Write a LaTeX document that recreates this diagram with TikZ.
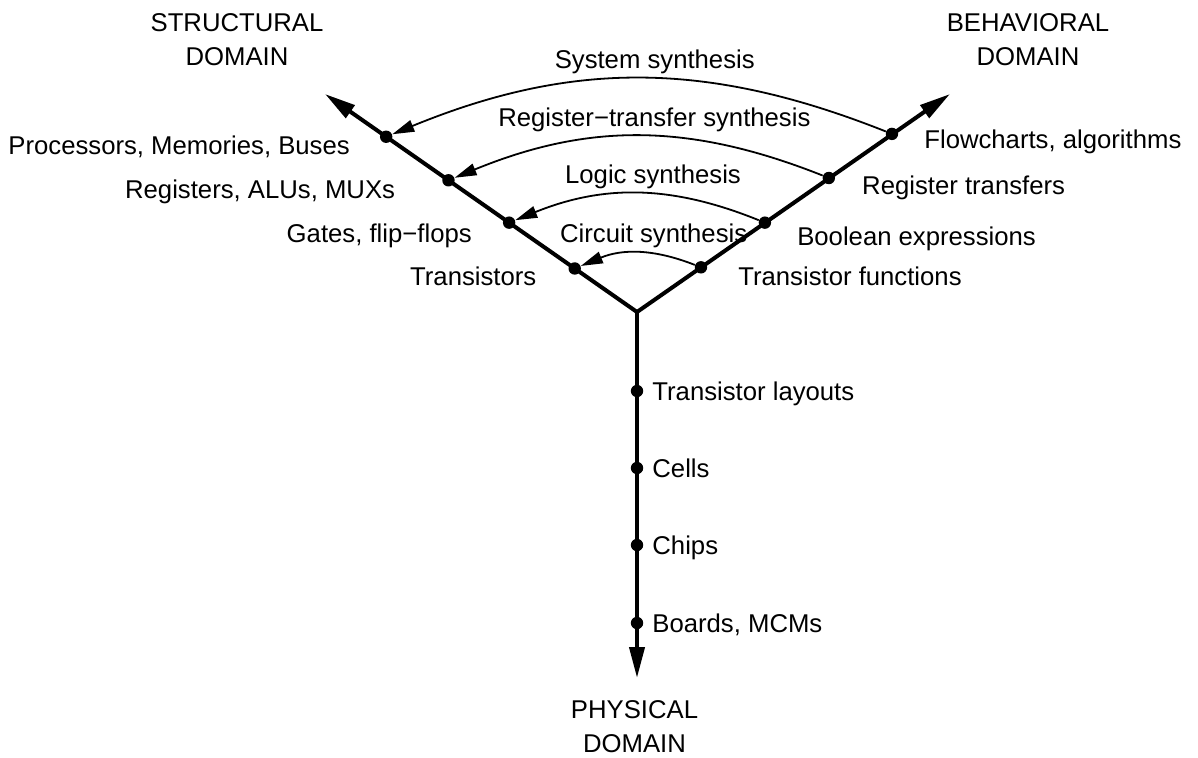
\documentclass[tikz,border=0pt]{standalone}
\usepackage{fontspec}
\setmainfont{Liberation Sans}
\usetikzlibrary{arrows.meta,calc}
\tikzset{
  ychart/.style={x=0.5pt,y=0.5pt,font=\fontsize{12.85}{17}\selectfont,
    >={Triangle[length=15.5pt,width=7.5pt]}},
  axisline/.style={line width=2pt,line join=miter},
  lvdot/.style={circle,fill,inner sep=0pt,minimum size=6.2pt},
  synarc/.style={line width=0.9pt,-{Triangle[length=11pt,width=6pt]}},
  synlbl/.style={inner sep=0pt,anchor=base,xshift=8pt,yshift=5pt},
  lvl/.style={inner sep=0pt},
  domname/.style={inner sep=0pt,align=center}
}

\begin{document}
\begin{tikzpicture}[ychart]
    \useasboundingbox (0,0) rectangle (1198,757);
    \coordinate (ctr) at (637,445);
    \coordinate (stip) at (325,663);
    \coordinate (btip) at (950,663);
    \coordinate (ptip) at (637,79);
    \draw[axisline,<->] (stip) -- (ctr) -- (btip);
    \draw[axisline,->] (ctr) -- (ptip);
    % levels on each axis
    \foreach \i/\d in {1/76,2/156,3/230,4/306}
      \node[lvdot] (s\i) at ($(ctr)+(145.06:\d)$) {};
    \foreach \i/\d in {1/78,2/156,3/234,4/311}
      \node[lvdot] (b\i) at ($(ctr)+(34.94:\d)$) {};
    \foreach \i/\d in {1/79,2/156,3/233,4/311}
      \node[lvdot] (p\i) at ($(ctr)+(0,-\d)$) {};
    % synthesis steps
    \draw[synarc] (b4) to[bend right=22] node[synlbl] (sysl) {System synthesis} (s4);
    \draw[synarc] (b3) to[bend right=22] node[synlbl] (rtl) {Register−transfer synthesis} (s3);
    \draw[synarc] (b2) to[bend right=22] node[synlbl] (logl) {Logic synthesis} (s2);
    \draw[synarc] (b1) to[bend right=22] node[synlbl] (cirl) {Circuit synthesis} (s1);
    \node[lvl,anchor=base east] (s4l) at ($(s4)+(-36,-18)$) {Processors, Memories, Buses};
    \node[lvl,anchor=base east] (s3l) at ($(s3)+(-53,-18)$) {Registers, ALUs, MUXs};
    \node[lvl,anchor=base east] (s2l) at ($(s2)+(-37,-20)$) {Gates, flip−flops};
    \node[lvl,anchor=base east] (s1l) at ($(s1)+(-38,-17)$) {Transistors};
    \node[lvl,anchor=base west] (b4l) at ($(b4)+(32,-15)$) {Flowcharts, algorithms};
    \node[lvl,anchor=base west] (b3l) at ($(b3)+(33,-17)$) {Register transfers};
    \node[lvl,anchor=base west] (b2l) at ($(b2)+(32,-23)$) {Boolean expressions};
    \node[lvl,anchor=base west] (b1l) at ($(b1)+(37,-18)$) {Transistor functions};
    \node[lvl,anchor=base west] (p1l) at ($(p1)+(15,-9)$) {Transistor layouts};
    \node[lvl,anchor=base west] (p2l) at ($(p2)+(15,-9)$) {Cells};
    \node[lvl,anchor=base west] (p3l) at ($(p3)+(15,-9)$) {Chips};
    \node[lvl,anchor=base west] (p4l) at ($(p4)+(15,-9)$) {Boards, MCMs};
    \node[domname] (sdom) at (237,717.5) {STRUCTURAL\\DOMAIN};
    \node[domname] (bdom) at (1028,717.5) {BEHAVIORAL\\DOMAIN};
    \node[domname] (pdom) at (634.5,30) {PHYSICAL\\DOMAIN};
\end{tikzpicture}
\end{document}
